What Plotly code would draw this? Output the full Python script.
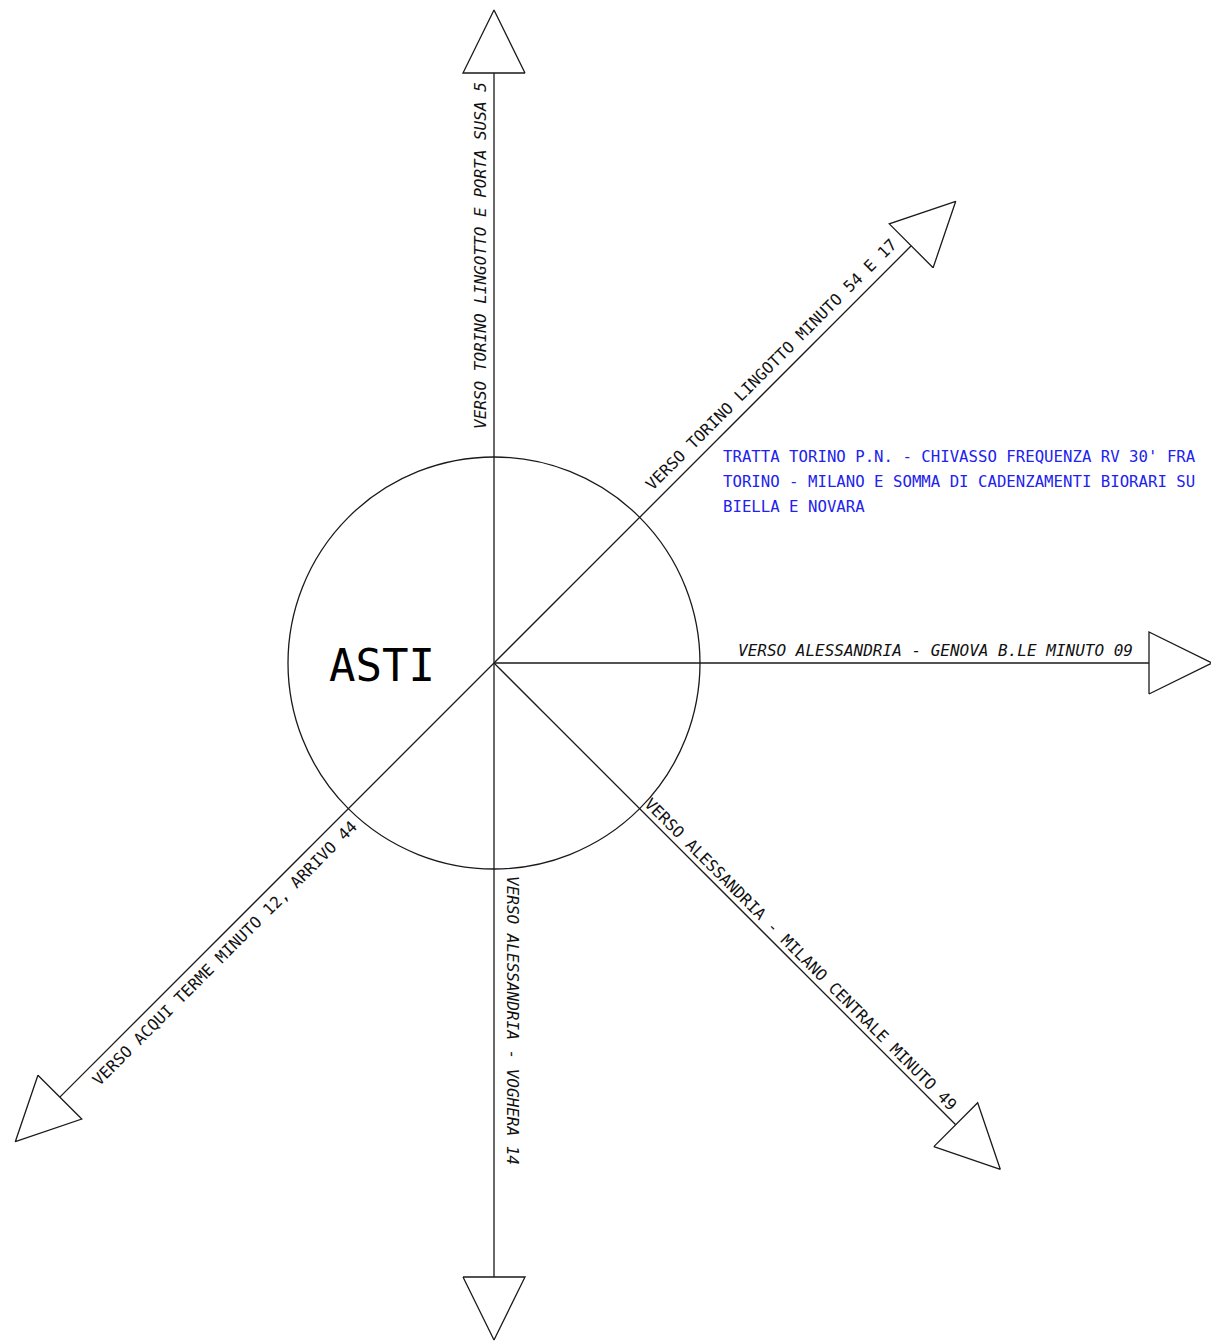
import math
import plotly.graph_objects as go

# ---------------- data ----------------
station_name = "ASTI"
arm_angles_deg = [90, 45, 0, -45, -90, -135]          # direction of each arm (math convention)
arm_lengths = [590, 590, 655, 653, 614, 614]          # length of the shaft up to the arrow base
arm_labels = [
    "VERSO TORINO LINGOTTO E PORTA SUSA 5",
    "VERSO TORINO LINGOTTO MINUTO 54 E 17",
    "VERSO ALESSANDRIA - GENOVA B.LE MINUTO 09",
    "VERSO ALESSANDRIA - MILANO CENTRALE MINUTO 49",
    "VERSO ALESSANDRIA - VOGHERA 14",
    "VERSO ACQUI TERME MINUTO 12, ARRIVO 44",
]
note_lines = [
    "TRATTA TORINO P.N. - CHIVASSO FREQUENZA RV 30' FRA",
    "TORINO - MILANO E SOMMA DI CADENZAMENTI BIORARI SU",
    "BIELLA E NOVARA",
]

# ---------------- layout / style ----------------
W, H = 1211, 1341
CX, CY, R = 494, 663, 206
HEAD_LEN, HEAD_HALF = 63, 31
LINE_COLOR = "#1a1a1a"
LW = 1.3

label_along = [407, 407, 441, 423, 357, 396]
label_offset = [-14, -15, -13, -11, -19, -15]
label_angle = [-90, -45, 0, 45, 90, -45]
label_style = ["italic", "normal", "italic", "normal", "italic", "normal"]
MONO = "DejaVu Sans Mono"

fig = go.Figure()

shapes = [dict(type="circle", xref="x", yref="y",
               x0=CX - R, x1=CX + R, y0=CY - R, y1=CY + R,
               line=dict(color=LINE_COLOR, width=LW), fillcolor="rgba(0,0,0,0)")]

annotations = []
for ang, L, txt, s, p, ta, st in zip(arm_angles_deg, arm_lengths, arm_labels,
                                       label_along, label_offset, label_angle, label_style):
    a = math.radians(ang)
    ux, uy = math.cos(a), -math.sin(a)
    nx, ny = -uy, ux
    bx, by = CX + L * ux, CY + L * uy
    # shaft
    fig.add_trace(go.Scatter(x=[CX, bx], y=[CY, by], mode="lines",
                             line=dict(color=LINE_COLOR, width=LW),
                             hoverinfo="skip", showlegend=False))
    # arrow head (open triangle)
    tx = [bx + HEAD_HALF * nx, bx + HEAD_LEN * ux, bx - HEAD_HALF * nx, bx + HEAD_HALF * nx]
    ty = [by + HEAD_HALF * ny, by + HEAD_LEN * uy, by - HEAD_HALF * ny, by + HEAD_HALF * ny]
    fig.add_trace(go.Scatter(x=tx, y=ty, mode="lines", fill="toself", fillcolor="white",
                             line=dict(color=LINE_COLOR, width=LW),
                             hoverinfo="skip", showlegend=False))
    # label
    lx, ly = CX + s * ux + p * nx, CY + s * uy + p * ny
    annotations.append(dict(x=lx, y=ly, xref="x", yref="y", text=txt, showarrow=False,
                            textangle=ta, xanchor="center", yanchor="middle",
                            font=dict(family=MONO, size=16, color="#111111", style=st)))

# station name
annotations.append(dict(x=382, y=665, xref="x", yref="y", text=station_name, showarrow=False,
                        xanchor="center", yanchor="middle",
                        font=dict(family=MONO, size=44, color="#000000")))

# blue note
for i, line in enumerate(note_lines):
    annotations.append(dict(x=721, y=456 + 25 * i, xref="x", yref="y", text=line,
                            showarrow=False, xanchor="left", yanchor="middle",
                            font=dict(family=MONO, size=15.7, color="#2222ee")))

fig.update_layout(
    width=W, height=H, autosize=False,
    margin=dict(l=0, r=0, t=0, b=0),
    paper_bgcolor="white", plot_bgcolor="white",
    xaxis=dict(range=[0, W], visible=False, fixedrange=True),
    yaxis=dict(range=[H, 0], visible=False, fixedrange=True),
    shapes=shapes, annotations=annotations, showlegend=False,
)

fig.write_html("out.html", config={"displayModeBar": False},
               post_script="document.body.style.margin='0';document.body.style.overflow='hidden';")
